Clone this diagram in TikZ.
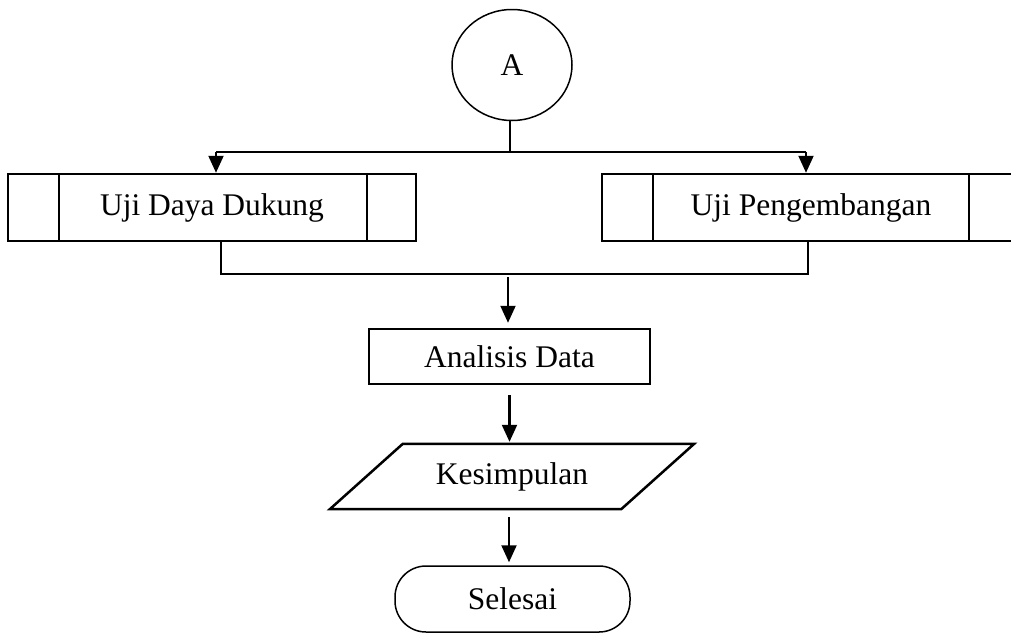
\documentclass[tikz,border=0pt]{standalone}
\usepackage{fontspec}
\setmainfont{Liberation Serif}
\usetikzlibrary{shapes.geometric,arrows.meta,calc}
\begin{document}
\begin{tikzpicture}[x=1pt,y=-1pt,
  font=\fontsize{31.5}{37}\selectfont,
  conn/.style={line width=2.1pt},
  arr/.style={conn,-{Triangle[length=17pt,width=15pt]}},
  boxx/.style={draw,line width=2.5pt,rectangle,minimum height=67pt,inner sep=0pt},
  divline/.style={line width=2.3pt}]
\useasboundingbox (0,0) rectangle (1011,635);
\clip (0,0) rectangle (1011,635);
\fill[white] (0,0) rectangle (1011,635);

\node[ellipse,draw,line width=1.5pt,minimum width=120pt,minimum height=111pt,inner sep=0pt] (A) at (512,65) {A};
\node[boxx,minimum width=408pt] (L) at (212,207.5) {Uji Daya Dukung};
\node[boxx,minimum width=418pt] (R) at (811,207.5) {Uji Pengembangan};
\draw[divline] ([xshift=52pt]L.north west) -- ([xshift=52pt]L.south west);
\draw[divline] ([xshift=-50pt]L.north east) -- ([xshift=-50pt]L.south east);
\draw[divline] ([xshift=52pt]R.north west) -- ([xshift=52pt]R.south west);
\draw[divline] ([xshift=-52pt]R.north east) -- ([xshift=-52pt]R.south east);

\node[boxx,minimum width=281pt,minimum height=55pt] (D) at (509.5,356.5) {Analisis Data};
\node[minimum width=364pt,minimum height=65pt,inner sep=0pt] (K) at (512,476.5) {Kesimpulan};
\draw[line width=2.5pt] ([xshift=73pt]K.north west) -- (K.north east) -- ([xshift=-73pt]K.south east) -- (K.south west) -- cycle;
\node[draw,rectangle,rounded corners=31pt,line width=1.5pt,minimum width=235pt,minimum height=66pt,inner sep=0pt] (S) at (512.5,599) {Selesai};

% connectors
\coordinate (j1) at (510,152);
\coordinate (lt) at ([xshift=4pt]L.north);
\coordinate (rt) at ([xshift=-5pt]R.north);
\draw[conn] ([xshift=-2pt]A.south) -- (j1);
\draw[conn] (j1) -- (j1 -| lt);
\draw[conn] (j1) -- (j1 -| rt);
\draw[arr] (j1 -| lt) -- (lt);
\draw[arr] (j1 -| rt) -- (rt);

\coordinate (lb) at ([xshift=9pt]L.south);
\coordinate (rb) at ([xshift=-3pt]R.south);
\coordinate (j2) at (508,274);
\draw[conn] (lb) |- (j2);
\draw[conn] (rb) |- (j2);
\draw[arr,shorten <=3pt,shorten >=5pt] (j2) -- (j2 |- D.north);
\draw[arr,shorten <=10pt,shorten >=2pt] (D.south) -- (D.south |- K.north);
\draw[arr,shorten <=8pt,shorten >=3pt] ([xshift=-3pt]K.south) -- ([xshift=-3pt]K.south |- S.north);
\end{tikzpicture}
\end{document}
